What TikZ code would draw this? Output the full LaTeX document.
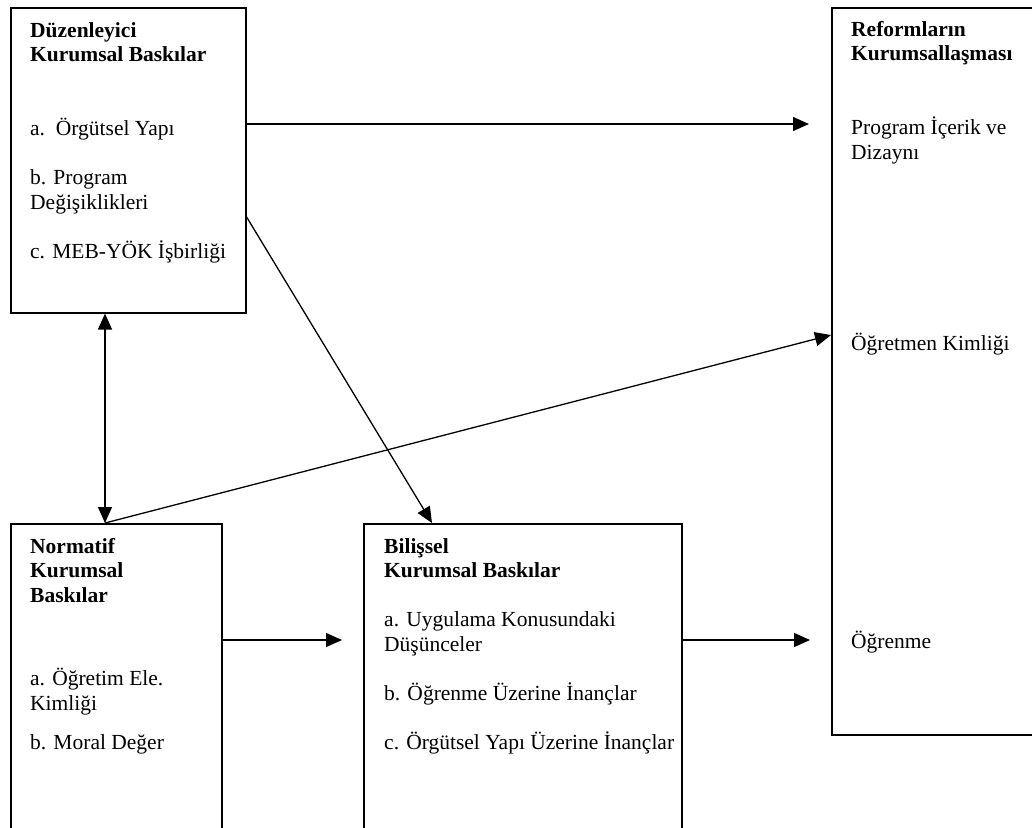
\documentclass[tikz,border=0pt]{standalone}
\usepackage{fontspec}
\setmainfont{Liberation Serif}
\usetikzlibrary{arrows.meta,calc}

\tikzset{
  kutu/.style={draw, line width=1.6pt, inner sep=0pt, anchor=north west},
  yazi/.style={anchor=base west, inner sep=0pt},
  ok/.style={line width=1.3pt, -{Triangle[length=16pt,width=14pt]}},
  cift/.style={line width=1.3pt, {Triangle[length=16pt,width=14pt]}-{Triangle[length=16pt,width=14pt]}},
}

\begin{document}
\begin{tikzpicture}[x=1pt,y=-1pt,font=\fontsize{21.5}{24.6}\selectfont]
  \useasboundingbox (0,0) rectangle (1032,827);
  \clip (0,0) rectangle (1032,827);

  % kutular
  \node[kutu, minimum width=235pt, minimum height=305pt] (duz) at (10,7) {};
  \node[kutu, minimum width=220pt, minimum height=727pt] (ref) at (831,7) {};
  \node[kutu, minimum width=211pt, minimum height=320pt] (norm) at (10,523) {};
  \node[kutu, minimum width=318pt, minimum height=320pt] (bil) at (363,523) {};

  % yazilar
  \foreach \i/\t in {0/\textbf{Düzenleyici}, 1/\textbf{Kurumsal Baskılar},
      4/a.\ \ Örgütsel Yapı, 6/b. Program, 7/Değişiklikleri, 9/c. MEB-YÖK İşbirliği}
    \node[yazi] (duz-\i) at (30,37+\i*24.6) {\t};

  \foreach \i/\t in {0/\textbf{Reformların}, 1/\textbf{Kurumsallaşması},
      4/Program İçerik ve, 5/Dizaynı, 12.8/Öğretmen Kimliği, 24.9/Öğrenme}
    \node[yazi] (ref-\i) at (851,36+\i*24.6) {\t};

  \foreach \i/\t in {0/\textbf{Normatif}, 1/\textbf{Kurumsal}, 2/\textbf{Baskılar},
      5.4/a. Öğretim Ele., 6.4/Kimliği, 8/b. Moral Değer}
    \node[yazi] (norm-\i) at (30,553+\i*24.6) {\t};

  \foreach \i/\t in {0/\textbf{Bilişsel}, 1/\textbf{Kurumsal Baskılar},
      3/a. Uygulama Konusundaki, 4/Düşünceler, 6/b. Öğrenme Üzerine İnançlar,
      8/c. Örgütsel Yapı Üzerine İnançlar}
    \node[yazi] (bil-\i) at (384,553+\i*24.6) {\t};

  % oklar
  \coordinate (satir1) at (0,124);
  \coordinate (satir2) at (0,640);
  \coordinate (ust) at ($(norm.north west)+(95,0)$);

  \draw[ok, shorten >=22pt] (duz.east |- satir1) -- (ref.west |- satir1);
  \draw[ok, shorten >=21pt] (norm.east |- satir2) -- (bil.west |- satir2);
  \draw[ok, shorten >=21pt] (bil.east |- satir2) -- (ref.west |- satir2);
  \draw[ok] ($(duz.north east)+(0,210)$) -- ($(bil.north west)+(69,0)$);
  \draw[cift] (duz.south -| ust) -- (ust);
  \draw[ok] (ust) -- ($(ref.north west)+(0,328)$);
\end{tikzpicture}
\end{document}
